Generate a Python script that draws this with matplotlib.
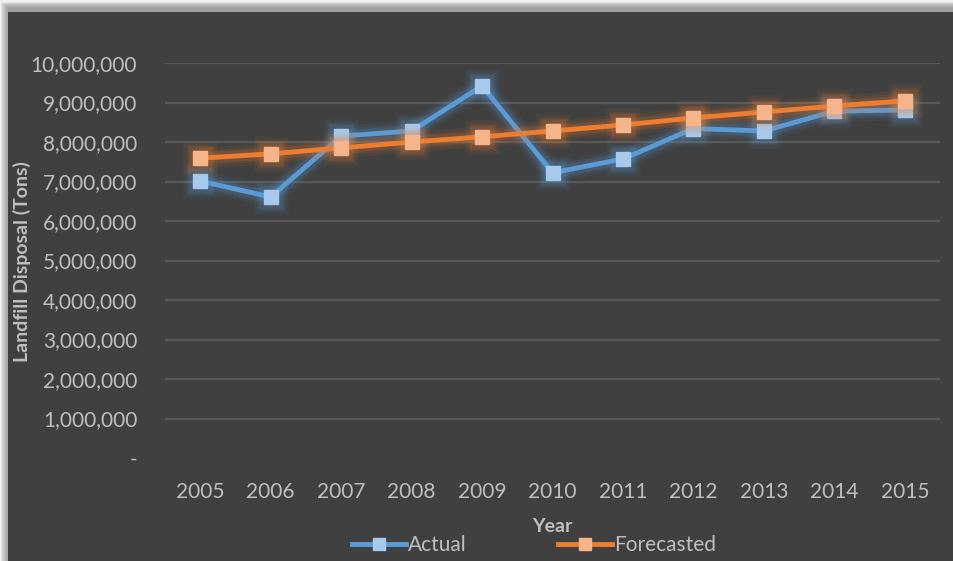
import matplotlib.pyplot as plt
import matplotlib.ticker as mticker
from matplotlib.lines import Line2D
from matplotlib.patches import Rectangle

years = ['2005', '2006', '2007', '2008', '2009', '2010',
         '2011', '2012', '2013', '2014', '2015']
actual = [7010000, 6610000, 8150000, 8280000, 9420000, 7220000,
          7570000, 8340000, 8280000, 8780000, 8810000]
forecasted = [7590000, 7700000, 7850000, 8000000, 8130000, 8280000,
              8430000, 8610000, 8760000, 8910000, 9040000]
y_ticks = [0, 1000000, 2000000, 3000000, 4000000, 5000000,
           6000000, 7000000, 8000000, 9000000, 10000000]

bg = '#404040'
text_col = '#bfbfbf'
blue_line, blue_mark = '#5b9bd5', '#a6c9ec'
orange_line, orange_mark = '#ed7d31', '#f6b48a'

plt.rcParams['font.family'] = ['Lato', 'DejaVu Sans']

fig = plt.figure(figsize=(9.54, 5.61), dpi=100)
fig.patch.set_facecolor('#f0f0f0')
# soft shadow around the top/left edge of the dark chart area
for i in range(8):
    off = 8 - i
    fig.add_artist(Rectangle((off / 954, -0.01), 1, 1 - (12 - i * 0.9 - 4) / 561 + 0.01,
                             transform=fig.transFigure, facecolor='#7a7a7a',
                             alpha=0.12, zorder=-3, lw=0))
fig.add_artist(Rectangle((8 / 954, -0.01), 1, 1 - 12 / 561 + 0.01,
                         transform=fig.transFigure, facecolor=bg, zorder=-2, lw=0))

ax = fig.add_axes([165 / 954, 1 - 458 / 561, 775 / 954, 395 / 561])
ax.set_facecolor('none')

x = list(range(len(years)))


def glow_series(vals, line_c, mark_c, z):
    # soft glow under the line and markers
    for lw, ms, a in [(15, 24, 0.07), (11, 20, 0.1), (8, 17, 0.14)]:
        ax.plot(x, vals, color=line_c, lw=lw, alpha=a, marker='s', ms=ms,
                mec='none', solid_capstyle='round', zorder=z)
    ax.plot(x, vals, color=line_c, lw=3.5, marker='s', ms=10,
            mfc=mark_c, mec=mark_c, zorder=z + 1)


glow_series(actual, blue_line, blue_mark, 3)
glow_series(forecasted, orange_line, orange_mark, 5)

ax.set_xlim(-0.5, len(years) - 0.5)
ax.set_ylim(0, 10000000)
ax.set_xticks(x)
ax.set_xticklabels(years)
ax.set_yticks(y_ticks)
ax.yaxis.set_major_formatter(mticker.FuncFormatter(
    lambda v, p: '-' if v == 0 else f'{int(v):,}'))
ax.tick_params(colors=text_col, labelsize=15, length=0)
ax.tick_params(axis='x', pad=17)
ax.tick_params(axis='y', pad=20)

for v in y_ticks[1:]:
    ax.axhline(v, color='#595959', lw=1.6, zorder=1)
for s in ax.spines.values():
    s.set_visible(False)

ax.set_xlabel('Year', color=text_col, fontsize=14, fontweight='bold', labelpad=12)
fig.text(22 / 954, 1 - 262 / 561, 'Landfill Disposal (Tons)', rotation=90,
         color=text_col, fontsize=14, fontweight='bold', ha='center', va='center')

handles = [
    Line2D([], [], color=blue_line, lw=3.5, marker='s', ms=8,
           mfc=blue_mark, mec=blue_mark),
    Line2D([], [], color=orange_line, lw=3.5, marker='s', ms=8,
           mfc=orange_mark, mec=orange_mark),
]
fig.legend(handles, ['Actual', 'Forecasted'], loc='center',
           bbox_to_anchor=(534 / 954, 1 - 545 / 561), ncol=2, frameon=False,
           fontsize=15, labelcolor=text_col, handlelength=2.6,
           handletextpad=0.1, columnspacing=4.4)

fig.savefig('out.png', dpi=100, facecolor=fig.get_facecolor())
